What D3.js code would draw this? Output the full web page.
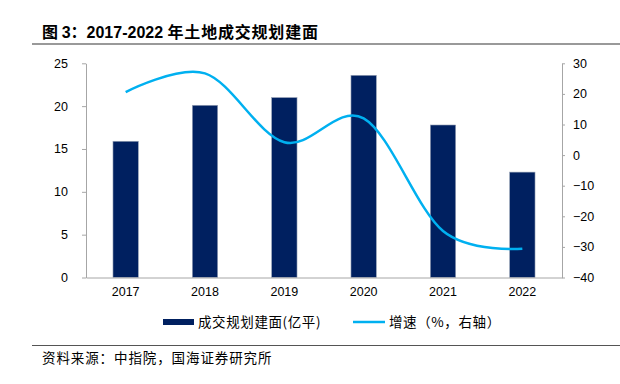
<html>
<script src='https://cdn.jsdelivr.net/npm/d3@7'></script>
<style>
body {margin:0; background:#fff;}
text {font-family: 'Liberation Sans', Arial, sans-serif;}
.cjk {font-family: 'Noto Sans CJK SC', sans-serif;}
.axis path, .axis line {stroke:#a6a6a6;}
.axis text {font-size:12.5px; fill:#000;}
</style>
<body>
<svg width=620 height=384></svg>
<script>
// data
const years = ['2017','2018','2019','2020','2021','2022'];
const area = [15.9, 20.1, 21.0, 23.6, 17.8, 12.3];      // 成交规划建面(亿平)
const growth = [20.6, 26.7, 4.2, 12.0, -24.8, -30.6];    // 增速 %
const leftTicks = [0,5,10,15,20,25];
const rightTicks = [-40,-30,-20,-10,0,10,20,30];

const svg = d3.select('svg');

var x = d3.scaleBand().domain(years).range([86,562]).paddingInner(0.68).paddingOuter(0.34);
var yL = d3.scaleLinear([0,25],[277.5,63.3]);
var yR = d3.scaleLinear([-40,30],[277.5,63.3]);

// title + rules
var t = svg.append('text').attr('x',42).attr('y',38)
  .style('font-size','16px').style('font-weight','bold');
t.append('tspan').attr('class','cjk').text('图 ');
t.append('tspan').text('3');
t.append('tspan').attr('class','cjk').text('：');
t.append('tspan').text('2017-2022 ');
t.append('tspan').attr('class','cjk').style('letter-spacing','0.8px').text('年土地成交规划建面');
svg.append('line').attr('x1',32).attr('x2',620).attr('y1',44).attr('y2',44)
  .attr('stroke','#999').attr('stroke-width',2);
svg.append('line').attr('x1',32).attr('x2',620).attr('y1',345.5).attr('y2',345.5)
  .attr('stroke','#555').attr('stroke-width',1);
svg.append('text').attr('class','cjk').attr('x',42).attr('y',363)
  .style('font-size','13.5px').style('letter-spacing','0.9px').text('资料来源：中指院，国海证券研究所');

// bars
svg.append('g').selectAll('rect')
  .data(area)
  .enter()
  .append('rect')
   .attr('x', function(d,i) {return x(years[i]);})
   .attr('y', function(d) {return yL(d);})
   .attr('width', x.bandwidth())
   .attr('height', function(d) {return yL(0)-yL(d);})
   .attr('fill','#002060')
   .attr('stroke','#9aa5b8').attr('stroke-width',0.6);

// growth line
var line = d3.line()
  .x(function(d,i) {return x(years[i]) + x.bandwidth()/2;})
  .y(function(d) {return yR(d);})
  .curve(d3.curveCardinal.tension(0));
svg.append('path').datum(growth)
  .attr('d', line).attr('fill','none')
  .attr('stroke','#00b0f0').attr('stroke-width',2.5);

// axes
svg.append('g').attr('class','axis')
  .attr('transform','translate(86,0)')
  .call(d3.axisLeft(yL).tickValues(leftTicks).tickSize(4).tickSizeOuter(0).tickPadding(14));

svg.append('g').attr('class','axis')
  .attr('transform','translate(562,0)')
  .call(d3.axisRight(yR).tickValues(rightTicks).tickSize(3).tickSizeOuter(0).tickPadding(8)
    .tickFormat(function(d){ return d < 0 ? '\u2212' + Math.abs(d) : d; }));

svg.append('g').attr('class','axis')
  .attr('transform','translate(0,277.5)')
  .call(d3.axisBottom(x).tickSize(0).tickPadding(10))
  .call(g => g.select('.domain').attr('stroke','#d0d0d0'));

// legend
var lg = svg.append('g');
lg.append('rect').attr('x',163).attr('y',319).attr('width',31).attr('height',6).attr('fill','#002060');
lg.append('text').attr('class','cjk').attr('x',198).attr('y',327)
  .style('font-size','13.5px').style('letter-spacing','0.6px').text('成交规划建面(亿平)');
lg.append('line').attr('x1',353).attr('x2',385).attr('y1',322).attr('y2',322)
  .attr('stroke','#00b0f0').attr('stroke-width',2.5);
lg.append('text').attr('class','cjk').attr('x',389).attr('y',327)
  .style('font-size','13.5px').style('letter-spacing','0.6px').text('增速（%，右轴）');
</script>
</body>
</html>
